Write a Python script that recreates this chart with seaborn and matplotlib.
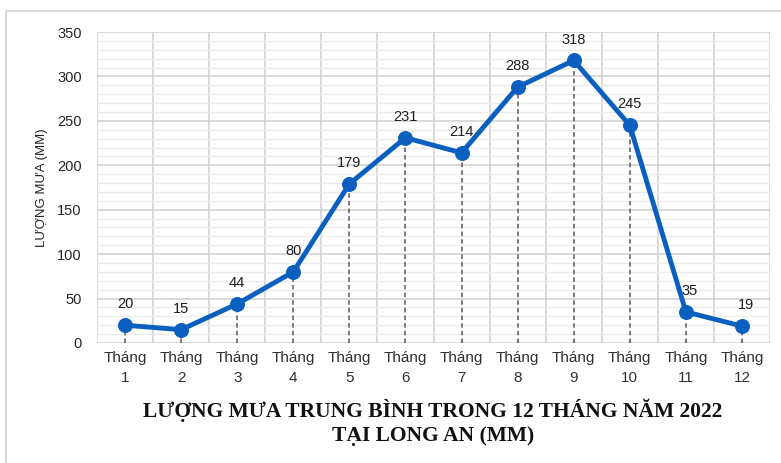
import numpy as np
import pandas as pd
import seaborn as sns
import matplotlib.pyplot as plt
from matplotlib.patches import Rectangle
from matplotlib.ticker import MultipleLocator, FixedLocator

months = ["Tháng\n1", "Tháng\n2", "Tháng\n3", "Tháng\n4", "Tháng\n5", "Tháng\n6",
          "Tháng\n7", "Tháng\n8", "Tháng\n9", "Tháng\n10", "Tháng\n11", "Tháng\n12"]
rain = [20, 15, 44, 80, 179, 231, 214, 288, 318, 245, 35, 19]

title_lines = ["LƯỢNG MƯA TRUNG BÌNH TRONG 12 THÁNG NĂM 2022", "TẠI LONG AN (MM)"]
ylabel = "LƯỢNG MƯA (MM)"


def main():
    sns.set_style("white")
    plt.rcParams['font.family'] = ['Liberation Sans', 'DejaVu Sans']
    blue = "#0a5fbf"

    df = pd.DataFrame({"month": months, "rain": rain})

    fig = plt.figure(figsize=(7.81, 4.63), dpi=100)
    ax = fig.add_axes([97 / 781, 1 - 343 / 463, 673 / 781, 311 / 463])

    # grid
    ax.set_ylim(0, 350)
    ax.set_xlim(-0.5, 11.5)
    ax.yaxis.set_major_locator(MultipleLocator(50))
    ax.yaxis.set_minor_locator(MultipleLocator(10))
    ax.xaxis.set_minor_locator(FixedLocator(np.arange(-0.5, 12, 1)))
    ax.grid(which="major", axis="y", color="#cfcfcf", lw=1.1)
    ax.grid(which="minor", axis="y", color="#ececec", lw=0.9)
    ax.grid(which="minor", axis="x", color="#cfcfcf", lw=1.1)
    ax.set_axisbelow(True)

    x = np.arange(len(rain))
    ax.vlines(x, 0, rain, colors="#595959", linestyles=(0, (3, 2)), lw=1.1, zorder=2)

    sns.lineplot(data=df, x="month", y="rain", ax=ax, color=blue, lw=3.5,
                 marker="o", markersize=10, markeredgecolor=blue, sort=False, zorder=3)

    for xi, v in zip(x, rain):
        dx = 0.07 if xi >= 10 else 0
        ax.annotate(str(v), (xi + dx, v), xytext=(0, 10), textcoords="offset points",
                    ha="center", va="bottom", fontsize=10.5, fontweight="medium",
                    color="#1f1f1f")

    for s in ax.spines.values():
        s.set_visible(False)
    ax.tick_params(axis="both", which="both", length=0)
    ax.tick_params(axis="x", pad=6)
    ax.tick_params(axis="y", pad=11)
    ax.set_xticks(x)
    ax.set_xticklabels(months, fontsize=11, color="#303030", linespacing=1.55)
    for lab in ax.get_yticklabels():
        lab.set_fontsize(10.5)
        lab.set_color("#262626")
    ax.set_xlabel("")
    ax.set_ylabel("")

    fig.text(42 / 781, 1 - 188 / 463, ylabel, rotation=90, ha="center", va="center",
             fontsize=9.5, color="#262626")
    for line, yc in zip(title_lines, [410, 436]):
        fig.text(433 / 781, 1 - yc / 463, line, ha="center", va="center",
                 fontsize=15.5, fontweight="bold", family="Liberation Serif",
                 color="#111111")

    # outer chart border
    fig.patches.append(Rectangle((6 / 781, -0.1), 1.0, 1 - 11 / 463 + 0.1,
                                 transform=fig.transFigure, fill=False,
                                 edgecolor="#d9d9d9", lw=1.5))

    fig.savefig("out.png", dpi=100)


if __name__ == "__main__":
    main()
